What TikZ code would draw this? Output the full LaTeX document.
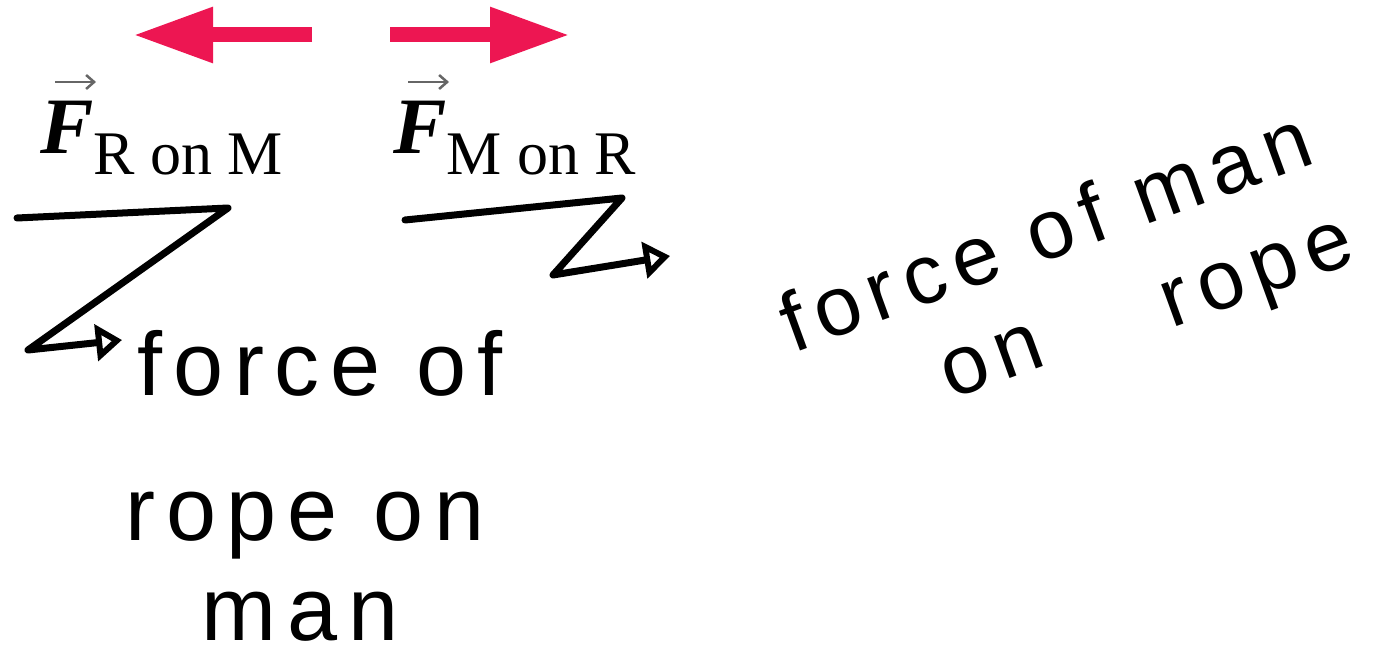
\documentclass[tikz,border=0pt]{standalone}
\usepackage{fontspec}
\setmainfont{Liberation Serif}
\newfontfamily\handfont[LetterSpace=12]{Liberation Sans}
\usetikzlibrary{arrows.meta}
\definecolor{forcered}{RGB}{237,22,82}
\tikzset{
  forcearrow/.style={draw=forcered, line width=15pt, -{Triangle[length=80pt,width=52pt]}},
  pen/.style={draw=black, line width=7pt, line cap=round, line join=round},
  penarrow/.style={pen, -{Triangle[open, length=26pt, width=36pt, line width=6pt]}},
  hand/.style={font=\handfont\fontsize{90}{100}\selectfont, inner sep=0pt, anchor=base},
  handr/.style={font=\handfont\fontsize{84}{94}\selectfont, inner sep=0pt, anchor=base, rotate=20},
  flabel/.style={inner sep=0pt, anchor=base west},
  vecarrow/.style={draw=black!60, line width=2.5pt, -{Straight Barb[length=8pt,width=14pt]}}
}
\begin{document}
\begin{tikzpicture}[x=1pt,y=-1pt]
\useasboundingbox (0,0) rectangle (1376,668);
% red force arrows
\coordinate (l0) at (312,35); \coordinate (l1) at (133,35);
\coordinate (r0) at (390,35); \coordinate (r1) at (570,35);
\draw[forcearrow] (l0) -- (l1);
\draw[forcearrow] (r0) -- (r1);
% labels
\node[flabel] (frm) at (40,154) {\fontsize{80}{90}\selectfont\bfseries\itshape F\fontsize{62}{70}\selectfont\mdseries\upshape\raisebox{-0.33em}{R on M}};
\node[flabel] (fmr) at (393,154) {\fontsize{80}{90}\selectfont\bfseries\itshape F\fontsize{62}{70}\selectfont\mdseries\upshape\raisebox{-0.33em}{M on R}};
\coordinate (va0) at (55,82); \coordinate (va1) at (96,82);
\coordinate (vb0) at (408,82); \coordinate (vb1) at (449,82);
\draw[vecarrow] (va0) -- (va1);
\draw[vecarrow] (vb0) -- (vb1);
% handwritten zigzag arrows
\coordinate (z1a) at (17,218); \coordinate (z1b) at (228,208);
\coordinate (z1c) at (28,350); \coordinate (z1d) at (122,340);
\draw[penarrow] (z1a) -- (z1b) -- (z1c) -- (z1d);
\coordinate (z2a) at (405,220); \coordinate (z2b) at (622,198);
\coordinate (z2c) at (553,275); \coordinate (z2d) at (670,256);
\draw[penarrow] (z2a) -- (z2b) -- (z2c) -- (z2d);
% handwritten text
\node[hand] (t1) at (320,395) {force of};
\node[hand] (t2) at (305,540) {rope on};
\node[hand] (t3) at (300,640) {man};
\node[handr] (t4) at (1055,258) {force of man};
\node[handr] (t5a) at (1000,382) {on};
\node[handr] (t5b) at (1265,295) {rope};
\end{tikzpicture}
\end{document}
